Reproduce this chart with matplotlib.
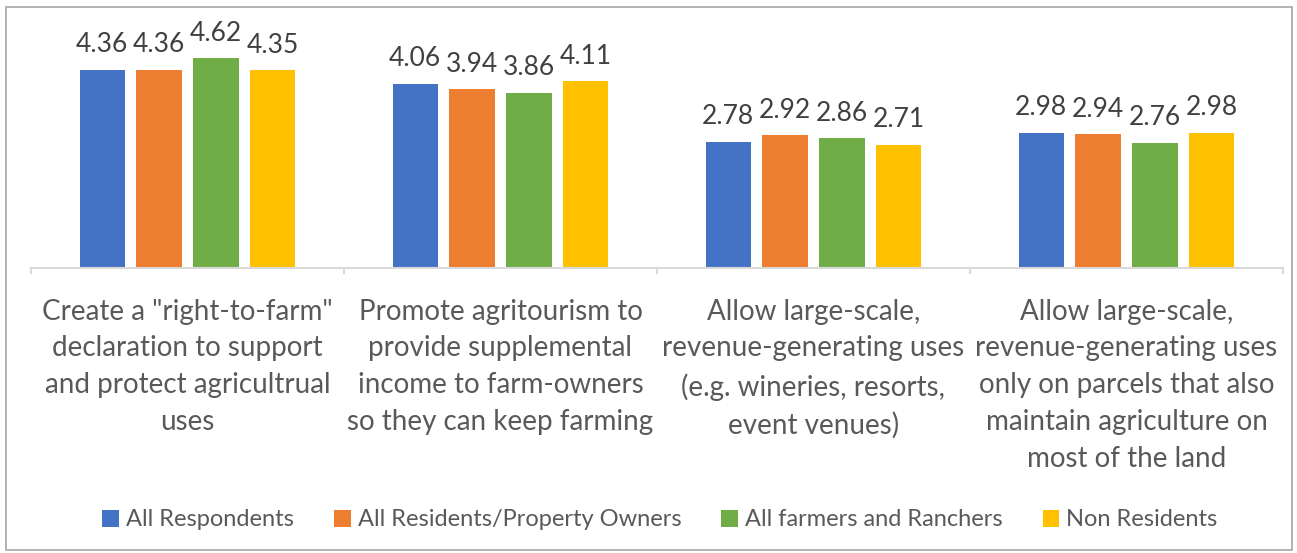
import matplotlib

matplotlib.use("Agg")
import matplotlib.pyplot as plt
import numpy as np
from matplotlib.patches import Rectangle

categories = [
    'Create a "right-to-farm"\ndeclaration to support\nand protect agricultrual\nuses',
    "Promote agritourism to\nprovide supplemental\nincome to farm-owners\nso they can keep farming",
    "Allow large-scale,\nrevenue-generating uses\n(e.g. wineries, resorts,\nevent venues)",
    "Allow large-scale,\nrevenue-generating uses\nonly on parcels that also\nmaintain agriculture on\nmost of the land",
]
series_names = ["All Respondents", "All Residents/Property Owners", "All farmers and Ranchers", "Non Residents"]
all_respondents = [4.36, 4.06, 2.78, 2.98]
residents_owners = [4.36, 3.94, 2.92, 2.94]
farmers_ranchers = [4.62, 3.86, 2.86, 2.76]
non_residents = [4.35, 4.11, 2.71, 2.98]
colors = ["#4472C4", "#ED7D31", "#70AD47", "#FFC000"]

plt.rcParams["font.family"] = ["Lato", "DejaVu Sans"]

W, H = 1297, 553
fig = plt.figure(figsize=(W / 100, H / 100), dpi=100)
ax = fig.add_axes([31 / W, (H - 268) / H, (1283 - 31) / W, 248 / H])

x = np.arange(len(categories))
slot = 0.182
width = 0.144
values = [all_respondents, residents_owners, farmers_ranchers, non_residents]
for i, (name, vals, c) in enumerate(zip(series_names, values, colors)):
    bars = ax.bar(x + (i - 1.5) * slot, vals, width=width, color=c, label=name)
    ax.bar_label(bars, labels=[f"{v:.2f}" for v in vals], padding=9,
                 fontsize=19, color="#404040")

ax.set_xlim(-0.5, len(categories) - 0.5)
ax.set_ylim(0, 5.46)
ax.set_yticks([])
for s in ["top", "right", "left"]:
    ax.spines[s].set_visible(False)
ax.spines["bottom"].set_color("#D9D9D9")
ax.spines["bottom"].set_linewidth(1.5)

ax.set_xticks(x)
ax.set_xticklabels(categories, fontsize=20, color="#595959", linespacing=1.52, va="top")
ax.tick_params(axis="x", length=0, pad=22)
for b in np.arange(-0.5, len(categories), 1.0):
    ax.plot([b, b], [0, -0.12], color="#D9D9D9", lw=1.5, clip_on=False)

leg = fig.legend(loc="center", bbox_to_anchor=(660 / W, (H - 520) / H), ncol=4,
                 frameon=False, fontsize=17, handlelength=0.7, handleheight=0.7,
                 handletextpad=0.3, columnspacing=1.7)
for t in leg.get_texts():
    t.set_color("#595959")

fig.patches.append(Rectangle((6 / W, 3 / H), 1286 / W, 543 / H, transform=fig.transFigure,
                             fill=False, edgecolor="#A6A6A6", lw=1.2))

fig.savefig("out.png", dpi=100)
